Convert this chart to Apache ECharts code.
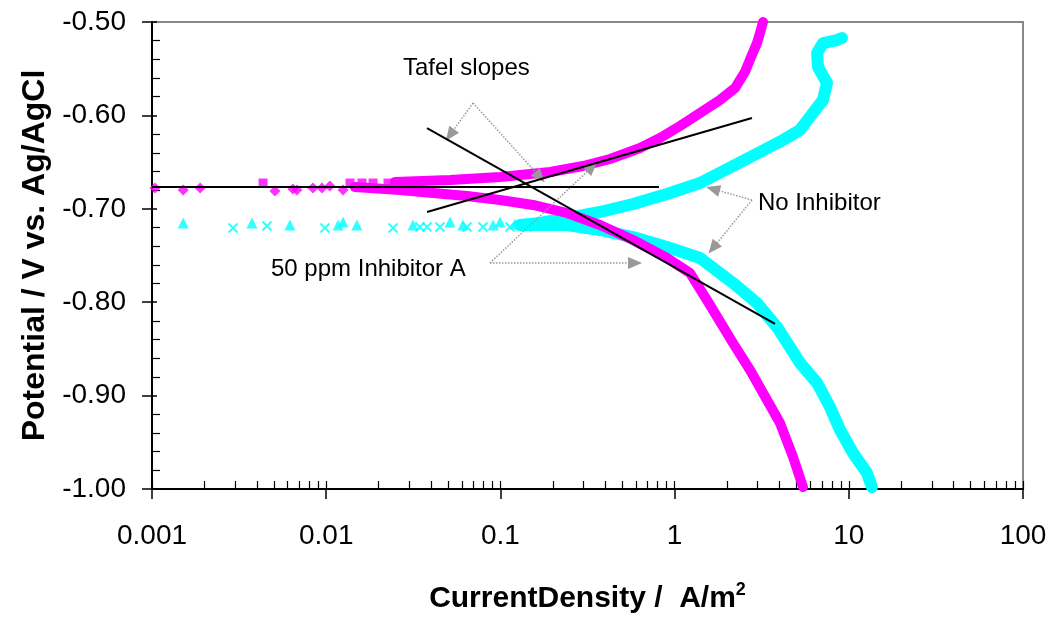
<!DOCTYPE html>
<html>
<head>
<meta charset="utf-8" />
<title>polarization curves</title>
<script src="https://cdn.jsdelivr.net/npm/echarts@6/dist/echarts.min.js"></script>
<style>
  body { margin: 0; background: #fff; }
  #main { width: 1055px; height: 617px; }
</style>
</head>
<body>
<div id="main"></div>
<script>
// tick labels
var xTickLabels = ['0.001', '0.01', '0.1', '1', '10', '100'];
var yTickLabels = ['-1.00', '-0.90', '-0.80', '-0.70', '-0.60', '-0.50'];

// 50 ppm Inhibitor A (magenta) : [current density A/m2, potential V]
var inhSparseDiamond = [[0.00104, -0.6777], [0.00151, -0.6799], [0.00189, -0.6777], [0.00508, -0.6810],
  [0.00644, -0.6788], [0.00679, -0.6799], [0.00839, -0.6777], [0.00946, -0.6777], [0.0105, -0.6756], [0.0125, -0.6799]];
var inhSparseSquare = [[0.00434, -0.6724], [0.0137, -0.6724], [0.01605, -0.6724], [0.01857, -0.6724], [0.02264, -0.6724]];
var inhAnodic = [[0.0248, -0.6713], [0.0514, -0.6692], [0.0995, -0.6660], [0.193, -0.6606], [0.298, -0.6542],
  [0.426, -0.6467], [0.633, -0.6349], [0.824, -0.6242], [1.074, -0.6113], [1.400, -0.5974], [1.822, -0.5835],
  [2.222, -0.5707], [2.535, -0.5535], [2.78, -0.5353], [2.972, -0.5225], [3.092, -0.5118], [3.218, -0.500]];
var inhCathodic = [[0.0146, -0.6767], [0.0265, -0.6799], [0.0410, -0.6831], [0.0643, -0.6863], [0.0995, -0.6906],
  [0.154, -0.6959], [0.241, -0.7045], [0.373, -0.7173], [0.577, -0.7334], [0.904, -0.7527], [1.225, -0.7687],
  [1.596, -0.8030], [2.163, -0.8437], [2.710, -0.8726], [3.391, -0.9047], [4.028, -0.9293], [4.785, -0.9657], [5.460, -0.9979]];

// No Inhibitor (cyan)
var blankSparseTri = [[0.00151, -0.7152], [0.00375, -0.7152], [0.00619, -0.7173], [0.0117, -0.7173], [0.0125, -0.7141],
  [0.0150, -0.7173], [0.0315, -0.7173], [0.0514, -0.7141], [0.0609, -0.7173], [0.0908, -0.7173], [0.0995, -0.7141], [0.1213, -0.7162]];
var blankSparseX = [[0.00292, -0.7206], [0.00457, -0.7184], [0.00984, -0.7206], [0.0242, -0.7206], [0.0345, -0.7195],
  [0.0379, -0.7195], [0.0450, -0.7195], [0.0643, -0.7195], [0.0794, -0.7195], [0.1135, -0.7195], [0.142, -0.7195]];
var blankAnodic = [[0.130, -0.7173], [0.1687, -0.7152], [0.241, -0.7099], [0.373, -0.7034], [0.577, -0.6949],
  [0.904, -0.6842], [1.400, -0.6724], [2.163, -0.6542], [3.092, -0.6392], [4.192, -0.6263], [5.251, -0.6156],
  [6.232, -0.5974], [7.112, -0.5835], [7.499, -0.5653], [6.653, -0.5482], [6.577, -0.5332], [7.112, -0.5225],
  [8.551, -0.5193], [9.141, -0.5171]];
var blankCathodic = [[0.130, -0.7173], [0.241, -0.7173], [0.373, -0.7227], [0.577, -0.7302], [0.904, -0.7409],
  [1.400, -0.7527], [2.163, -0.7794], [2.972, -0.8009], [3.871, -0.8266], [4.59, -0.8480], [5.251, -0.8651],
  [6.577, -0.8865], [7.796, -0.9122], [8.907, -0.9368], [10.57, -0.9615], [12.71, -0.9829], [13.58, -0.9979]];

// Tafel fit lines
var tafelEcorr = [[0.001, -0.6767], [0.813, -0.6767]];
var tafelCathodic = [[0.0379, -0.6135], [3.77, -0.8233]];
var tafelAnodic = [[0.0379, -0.7034], [2.78, -0.6028]];

// annotation arrows (from, to)
var arrowTafel = [[[0.0697, -0.5867], [0.0514, -0.621]], [[0.0697, -0.5867], [0.1687, -0.666]]];
var arrowInhib = [[[0.0871, -0.758], [0.593, -0.758]], [[0.0871, -0.758], [0.336, -0.6552]]];
var arrowBlank = [[[2.78, -0.6906], [1.66, -0.6788]], [[2.78, -0.6906], [1.66, -0.742]]];

var FONT = '"Liberation Sans", Arial, sans-serif';
var MAGENTA = '#ff00ff';
var CYAN = '#00ffff';

// minor ticks of the log axis (2..9 of every decade), on a value axis in log10 units
var minorLog = [];
for (var d = -3; d < 2; d++) {
  for (var k = 1; k < 10; k++) minorLog.push(d + Math.log10(k));
}
minorLog.push(2);

function arrowData(list) {
  return list.map(function (p) {
    return [{ coord: p[0] }, { coord: p[1] }];
  });
}

var chart = echarts.init(document.getElementById('main'));

chart.setOption({
  animation: false,
  grid: {
    left: 152, right: 32, top: 22, bottom: 128,
    show: true, borderColor: '#888', borderWidth: 2,
    outerBoundsMode: 'none'
  },
  xAxis: [{
    type: 'log', logBase: 10, min: 0.001, max: 100,
    position: 'bottom',
    name: 'CurrentDensity /  A/m{sup|2}',
    nameLocation: 'middle', nameGap: 92,
    nameTextStyle: {
      color: '#000', fontFamily: FONT, fontSize: 30, fontWeight: 'bold',
      rich: { sup: { fontFamily: FONT, fontSize: 18, fontWeight: 'bold', color: '#000', verticalAlign: 'top', padding: [0, 0, 18, 0] } }
    },
    axisLine: { onZero: false, lineStyle: { color: '#000', width: 2 } },
    axisTick: { show: true, inside: false, length: 10, lineStyle: { color: '#000', width: 1.5 } },
    axisLabel: {
      color: '#000', fontFamily: FONT, fontSize: 28, margin: 33,
      formatter: function (v) { return xTickLabels[Math.round(Math.log10(v)) + 3]; }
    },
    splitLine: { show: false }
  }, {
    type: 'value', min: -3, max: 2, position: 'bottom',
    axisLine: { show: false, onZero: false },
    axisTick: { show: true, inside: true, length: 8, customValues: minorLog, lineStyle: { color: '#000', width: 1.2 } },
    axisLabel: { show: false },
    splitLine: { show: false }
  }],
  yAxis: [{
    type: 'value', min: -1, max: -0.5, interval: 0.1,
    position: 'left',
    name: 'Potential / V vs. Ag/AgCl',
    nameLocation: 'middle', nameGap: 82,
    nameTextStyle: { color: '#000', fontFamily: FONT, fontSize: 32, fontWeight: 'bold' },
    axisLine: { show: true, onZero: false, lineStyle: { color: '#000', width: 2 } },
    axisTick: { show: true, inside: false, length: 10, lineStyle: { color: '#000', width: 1.5 } },
    axisLabel: {
      color: '#000', fontFamily: FONT, fontSize: 28, margin: 26,
      formatter: function (v) { return yTickLabels[Math.round((v + 1) * 10)]; }
    },
    splitLine: { show: false }
  }, {
    type: 'value', min: -1, max: -0.5, interval: 0.1,
    position: 'left',
    axisLine: { show: false, onZero: false },
    axisTick: { show: true, inside: true, length: 5, lineStyle: { color: '#000', width: 1.5 } },
    minorTick: { show: true, splitNumber: 5, length: 8, lineStyle: { color: '#000', width: 1.2 } },
    axisLabel: { show: false },
    splitLine: { show: false }
  }],
  series: [
    {
      name: 'No Inhibitor anodic', type: 'line', data: blankAnodic, showSymbol: false,
      lineStyle: { color: CYAN, width: 12, join: 'round', cap: 'round' }, z: 2
    },
    {
      name: 'No Inhibitor cathodic', type: 'line', data: blankCathodic, showSymbol: false,
      lineStyle: { color: CYAN, width: 12, join: 'round', cap: 'round' }, z: 2
    },
    {
      name: 'No Inhibitor tri', type: 'scatter', data: blankSparseTri, symbol: 'triangle', symbolSize: 11,
      itemStyle: { color: CYAN }, z: 2
    },
    {
      name: 'No Inhibitor x', type: 'scatter', data: blankSparseX, symbol: 'path://M0,0L10,10M10,0L0,10', symbolSize: 9,
      itemStyle: { color: 'rgba(0,0,0,0)', borderColor: CYAN, borderWidth: 2 }, z: 2
    },
    {
      name: '50 ppm anodic', type: 'line', data: inhAnodic, showSymbol: false,
      lineStyle: { color: MAGENTA, width: 10, join: 'round', cap: 'round' }, z: 3
    },
    {
      name: '50 ppm cathodic', type: 'line', data: inhCathodic, showSymbol: false,
      lineStyle: { color: MAGENTA, width: 10, join: 'round', cap: 'round' }, z: 3
    },
    {
      name: '50 ppm diamond', type: 'scatter', data: inhSparseDiamond, symbol: 'diamond', symbolSize: 11,
      itemStyle: { color: MAGENTA }, z: 3
    },
    {
      name: '50 ppm square', type: 'scatter', data: inhSparseSquare, symbol: 'rect', symbolSize: 9,
      itemStyle: { color: MAGENTA }, z: 3
    },
    {
      name: 'Tafel Ecorr', type: 'line', data: tafelEcorr, showSymbol: false,
      lineStyle: { color: '#000', width: 2 }, z: 5
    },
    {
      name: 'Tafel cathodic', type: 'line', data: tafelCathodic, showSymbol: false,
      lineStyle: { color: '#000', width: 2 }, z: 5
    },
    {
      name: 'Tafel anodic', type: 'line', data: tafelAnodic, showSymbol: false,
      lineStyle: { color: '#000', width: 2 }, z: 5,
      markLine: {
        silent: true, symbol: ['none', 'triangle'], symbolSize: [12, 14],
        label: { show: false },
        lineStyle: { type: 'dotted', color: '#999', width: 1.5 },
        itemStyle: { color: '#999' },
        data: arrowData(arrowTafel.concat(arrowInhib, arrowBlank))
      }
    }
  ],
  graphic: [
    { type: 'text', x: 403, y: 68, z: 10, style: { text: 'Tafel slopes', font: '24px ' + FONT, fill: '#000', verticalAlign: 'middle' } },
    { type: 'text', x: 758, y: 203, z: 10, style: { text: 'No Inhibitor', font: '24px ' + FONT, fill: '#000', verticalAlign: 'middle' } },
    { type: 'text', x: 271, y: 269, z: 10, style: { text: '50 ppm Inhibitor A', font: '24px ' + FONT, fill: '#000', verticalAlign: 'middle' } }
  ]
});

window.onresize = function () {
  chart.resize();
};
</script>
</body>
</html>
